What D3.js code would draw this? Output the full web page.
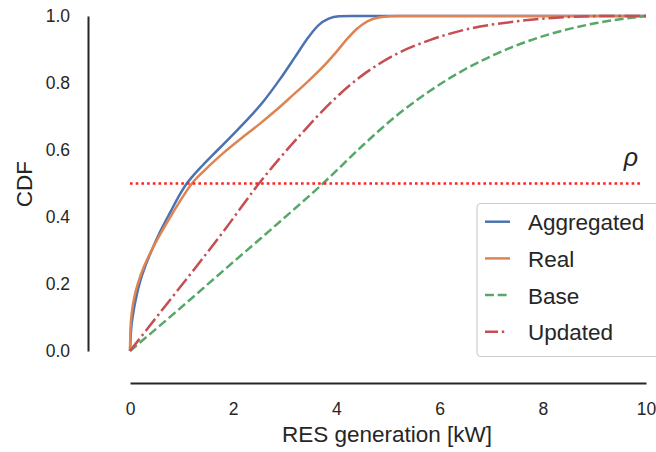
<!DOCTYPE html>
<html>
<head>
<meta charset="utf-8">
<script src="https://cdn.jsdelivr.net/npm/d3@7"></script>
<style>
  html, body { margin: 0; padding: 0; background: #fff; }
  svg { display: block; }
  text { font-family: "Liberation Sans", Arial, sans-serif; fill: #262626; }
</style>
</head>
<body>
<svg id="chart" width="656" height="452"></svg>
<script>
// ---- data ----
const seriesNames = ["Aggregated", "Real", "Base", "Updated"];
const aggregatedX = [0, 0.02, 0.06, 0.12, 0.2, 0.3, 0.42, 0.58, 0.8, 0.95, 1.1, 1.25, 1.4, 1.7, 2.0, 2.3, 2.6, 2.9, 3.2, 3.45, 3.65, 3.85, 4.05, 4.3, 10];
const aggregatedY = [0, 0.06, 0.11, 0.16, 0.21, 0.255, 0.3, 0.355, 0.42, 0.463, 0.5, 0.528, 0.553, 0.6, 0.647, 0.695, 0.748, 0.81, 0.878, 0.935, 0.972, 0.992, 0.999, 1.0, 1.0];
const realX = [0, 0.01, 0.04, 0.09, 0.16, 0.28, 0.45, 0.62, 0.8, 1.0, 1.2, 1.45, 1.84, 2.2, 2.49, 2.84, 3.13, 3.45, 3.78, 4.0, 4.2, 4.4, 4.6, 4.85, 5.2, 10];
const realY = [0, 0.07, 0.12, 0.165, 0.205, 0.255, 0.31, 0.358, 0.405, 0.455, 0.5, 0.54, 0.595, 0.64, 0.675, 0.72, 0.76, 0.805, 0.855, 0.893, 0.93, 0.962, 0.984, 0.996, 1.0, 1.0];
const baseX = [0, 0.93, 1.9, 2.8, 3.74, 4.52, 5.17, 5.81, 6.46, 7.11, 7.75, 8.4, 9.04, 10];
const baseY = [0, 0.122, 0.252, 0.372, 0.5, 0.615, 0.703, 0.776, 0.838, 0.888, 0.927, 0.957, 0.979, 1.0];
const updatedX = [0, 0.61, 1.25, 1.85, 2.5, 2.9, 3.3, 3.88, 4.52, 5.17, 5.81, 6.46, 7.43, 8.4, 9.2, 10];
const updatedY = [0, 0.12, 0.245, 0.365, 0.5, 0.575, 0.645, 0.74, 0.825, 0.887, 0.928, 0.958, 0.983, 0.996, 1.0, 1.0];
const rhoLevel = 0.5;
const rhoRange = [0, 9.9];
const xTicks = [0, 2, 4, 6, 8, 10];
const yTicks = [0, 0.2, 0.4, 0.6, 0.8, 1.0];
const xLabel = "RES generation [kW]";
const yLabel = "CDF";

// ---- styles ----
const colors = ["#4C72B0", "#DD8452", "#55A868", "#C44E52"];
const dashes = [null, null, "8.9,3.8", "15.4,3.8,2.4,3.8"];
const legendDashes = [null, null, "8.9,3.8", "13,3.8,2.4,12"];
const seriesX = [aggregatedX, realX, baseX, updatedX];
const seriesY = [aggregatedY, realY, baseY, updatedY];

const svg = d3.select("#chart");
const x = d3.scaleLinear().domain([0, 10]).range([130, 646]);
const y = d3.scaleLinear().domain([0, 1]).range([351, 16]);

// y axis (offset spine)
const yAxis = svg.append("g").attr("transform", "translate(88,0)")
  .call(d3.axisLeft(y).tickValues(yTicks).tickFormat(d3.format(".1f")).tickSize(0).tickPadding(18));
yAxis.select(".domain").attr("stroke", "#262626").attr("stroke-width", 2);
yAxis.selectAll("text").attr("font-size", "17.5px").attr("fill", "#262626")
  .attr("font-family", "Liberation Sans, Arial, sans-serif");

// x axis (offset spine)
const xAxis = svg.append("g").attr("transform", "translate(0,383)")
  .call(d3.axisBottom(x).tickValues(xTicks).tickFormat(d3.format("d")).tickSize(0).tickPadding(20));
xAxis.select(".domain").attr("stroke", "#262626").attr("stroke-width", 2);
xAxis.selectAll("text").attr("font-size", "17.5px").attr("fill", "#262626")
  .attr("font-family", "Liberation Sans, Arial, sans-serif");

// axis labels
svg.append("text").attr("x", 387).attr("y", 442).attr("text-anchor", "middle")
  .attr("font-size", "22.5px").text(xLabel);
svg.append("text").attr("transform", "translate(32,184) rotate(-90)").attr("text-anchor", "middle")
  .attr("font-size", "22.5px").text(yLabel);

// series
const line = d3.line().x(d => x(d[0])).y(d => y(d[1])).curve(d3.curveMonotoneX);
seriesNames.forEach((name, i) => {
  const pts = seriesX[i].map((v, j) => [v, seriesY[i][j]]);
  svg.append("path").datum(pts)
    .attr("d", line)
    .attr("fill", "none")
    .attr("stroke", colors[i])
    .attr("stroke-width", 2.5)
    .attr("stroke-dasharray", dashes[i]);
});

// rho threshold line
svg.append("line")
  .attr("x1", x(rhoRange[0])).attr("x2", x(rhoRange[1]))
  .attr("y1", y(rhoLevel)).attr("y2", y(rhoLevel))
  .attr("stroke", "#ff2020").attr("stroke-width", 2.6)
  .attr("stroke-dasharray", "2.6,3.1");
svg.append("text").attr("x", 631).attr("y", 166).attr("text-anchor", "middle")
  .attr("font-family", "DejaVu Sans, sans-serif").attr("font-style", "italic")
  .attr("font-size", "25px").text("ρ");

// legend
const lg = svg.append("g");
lg.append("rect").attr("x", 477).attr("y", 203.5).attr("width", 190).attr("height", 153)
  .attr("rx", 4).attr("fill", "#fff").attr("fill-opacity", 0.8)
  .attr("stroke", "#cccccc").attr("stroke-width", 1.2);
seriesNames.forEach((name, i) => {
  const cy = 221.7 + i * 36.7;
  lg.append("line").attr("x1", 485).attr("x2", 510).attr("y1", cy).attr("y2", cy)
    .attr("stroke", colors[i]).attr("stroke-width", 2.5)
    .attr("stroke-dasharray", legendDashes[i]);
  lg.append("text").attr("x", 528).attr("y", cy + 8.5).attr("font-size", "22.5px").text(name);
});
</script>
</body>
</html>
